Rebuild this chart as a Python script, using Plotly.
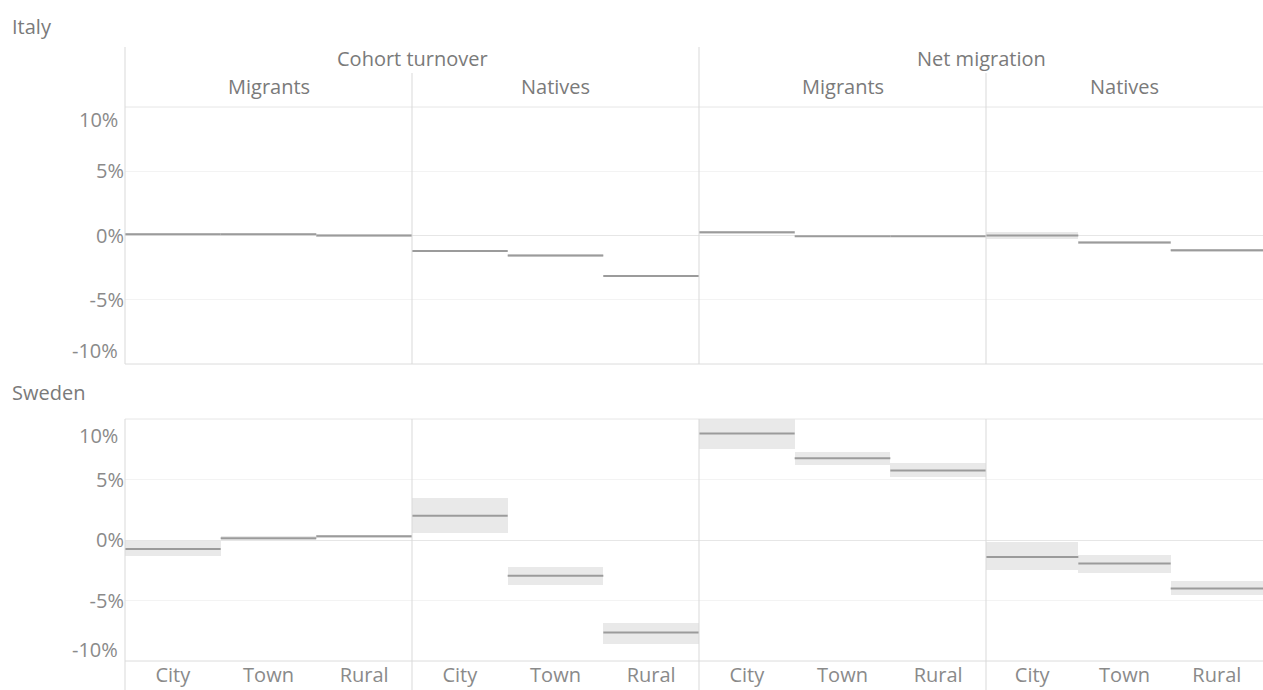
import plotly.graph_objects as go

# ---------------- data ----------------
countries = ["Italy", "Sweden"]
measures = ["Cohort turnover", "Net migration"]
groups = ["Migrants", "Natives"]
categories = ["City", "Town", "Rural"]
y_tick_vals = [-10, -5, 0, 5, 10]
y_tick_text = ["-10%", "-5%", "0%", "5%", "10%"]

# values in %, ordered: CT-Migrants, CT-Natives, NM-Migrants, NM-Natives (City, Town, Rural each)
italy_est = [0.1, 0.1, 0.0, -1.2, -1.55, -3.15, 0.25, -0.05, -0.05, 0.0, -0.55, -1.15]
italy_lo = [0.0, 0.0, -0.1, -1.3, -1.65, -3.25, 0.15, -0.15, -0.15, -0.3, -0.65, -1.25]
italy_hi = [0.2, 0.2, 0.1, -1.1, -1.45, -3.05, 0.35, 0.05, 0.05, 0.3, -0.45, -1.05]

sweden_est = [-0.75, 0.15, 0.3, 2.0, -2.95, -7.65, 8.8, 6.75, 5.75, -1.4, -1.95, -4.0]
sweden_lo = [-1.3, 0.0, 0.15, 0.55, -3.7, -8.6, 7.5, 6.2, 5.2, -2.45, -2.7, -4.55]
sweden_hi = [-0.05, 0.3, 0.45, 3.45, -2.2, -6.9, 10.0, 7.25, 6.4, -0.2, -1.25, -3.4]

est = {"Italy": italy_est, "Sweden": sweden_est}
lo = {"Italy": italy_lo, "Sweden": sweden_lo}
hi = {"Italy": italy_hi, "Sweden": sweden_hi}

# ---------------- layout geometry (pixels) ----------------
W, H = 1263, 690
FONT = "Open Sans"
FSIZE = 20
FWEIGHT = 400
col_edges = [125, 412, 699, 986, 1263]
row_span = {"Italy": (107, 364), "Sweden": (419, 661)}
end_label_shift = {"Italy": (-12, 14), "Sweden": (-16, 12)}

def px(x):
    return x / W

def py(y):
    return 1 - y / H

LINE_C = "#9b9b9b"
BAND_C = "#e9e9e9"
SEP_C = "#d9d9d9"
GRID_C = "#f3f3f3"
TXT_C = "#8a8a8a"
HDR_C = "#7a7a7a"

def fnt(color=TXT_C):
    return dict(family=FONT, size=FSIZE, color=color, weight=FWEIGHT)

fig = go.Figure()
layout_axes = {}
annotations = []
shapes = []

panels = [(m, g) for m in measures for g in groups]
n = 0
for r, country in enumerate(countries):
    top, bot = row_span[country]
    for c, (m, g) in enumerate(panels):
        n += 1
        xa = "x" if n == 1 else f"x{n}"
        ya = "y" if n == 1 else f"y{n}"
        sl = slice(c * 3, c * 3 + 3)
        e = est[country][sl]
        l = lo[country][sl]
        h = hi[country][sl]
        idx = list(range(len(categories)))
        fig.add_trace(go.Bar(
            x=idx, y=[hh - ll for hh, ll in zip(h, l)], base=l, width=1,
            marker=dict(color=BAND_C, line=dict(width=0)),
            xaxis=xa, yaxis=ya, showlegend=False, hoverinfo="skip"))
        xs, ys = [], []
        for i, v in zip(idx, e):
            xs += [i - 0.5, i + 0.5, None]
            ys += [v, v, None]
        fig.add_trace(go.Scatter(
            x=xs, y=ys, mode="lines", line=dict(color=LINE_C, width=2),
            xaxis=xa, yaxis=ya, showlegend=False, connectgaps=False))
        layout_axes[f"xaxis{'' if n == 1 else n}"] = dict(
            domain=[px(col_edges[c]), px(col_edges[c + 1])],
            anchor=ya, range=[-0.5, 2.5], tickvals=idx, ticktext=categories,
            showticklabels=(country == "Sweden"), showgrid=False, zeroline=False,
            showline=False, ticks="", fixedrange=True, tickfont=fnt())
        layout_axes[f"yaxis{'' if n == 1 else n}"] = dict(
            domain=[py(bot), py(top)], anchor=xa, range=[-10, 10],
            tickvals=y_tick_vals,
            ticktext=["", "-5%", "0%", "5%", ""],
            showticklabels=(c == 0), showgrid=True, gridcolor=GRID_C, gridwidth=1,
            zeroline=True, zerolinecolor="#e6e6e6", zerolinewidth=1,
            showline=False, ticks="", fixedrange=True, tickfont=fnt())
        if c == 0:
            # end labels nudged inside the panel, as in the original
            s_top, s_bot = end_label_shift[country]
            annotations.append(dict(x=0, xref=f"{xa} domain", xanchor="right", xshift=-5,
                                    y=y_tick_vals[-1], yref=ya, yanchor="middle", yshift=s_top,
                                    text=y_tick_text[-1], showarrow=False, font=fnt()))
            annotations.append(dict(x=0, xref=f"{xa} domain", xanchor="right", xshift=-5,
                                    y=y_tick_vals[0], yref=ya, yanchor="middle", yshift=s_bot,
                                    text=y_tick_text[0], showarrow=False, font=fnt()))
    # row frame lines
    shapes.append(dict(type="line", xref="paper", yref="paper", x0=px(125), x1=px(1263),
                       y0=py(top), y1=py(top), line=dict(color="#e6e6e6", width=1)))
    shapes.append(dict(type="line", xref="paper", yref="paper", x0=px(125), x1=px(1263),
                       y0=py(bot), y1=py(bot), line=dict(color="#dcdcdc", width=1)))
    for xe in col_edges[:-1]:
        if country == "Italy":
            y0 = 47 if xe in (125, 699) else 73
            y1 = bot
        else:
            y0, y1 = top, H
        shapes.append(dict(type="line", xref="paper", yref="paper", x0=px(xe), x1=px(xe),
                           y0=py(y0), y1=py(y1), line=dict(color=SEP_C, width=1)))
    # country title
    annotations.append(dict(x=px(10), y=py(27 if country == "Italy" else 392), xref="paper",
                            yref="paper", xanchor="left", yanchor="middle", text=country,
                            showarrow=False, font=fnt(HDR_C)))

# column headers
for k, m in enumerate(measures):
    xc = (col_edges[2 * k] + col_edges[2 * k + 2]) / 2
    annotations.append(dict(x=px(xc), y=py(58), xref="paper", yref="paper",
                            xanchor="center", yanchor="middle", text=m, showarrow=False,
                            font=fnt(HDR_C)))
for c, (m, g) in enumerate(panels):
    xc = (col_edges[c] + col_edges[c + 1]) / 2
    annotations.append(dict(x=px(xc), y=py(87), xref="paper", yref="paper",
                            xanchor="center", yanchor="middle", text=g, showarrow=False,
                            font=fnt(HDR_C)))

fig.update_layout(
    width=W, height=H, autosize=False,
    margin=dict(l=0, r=0, t=0, b=0),
    paper_bgcolor="white", plot_bgcolor="rgba(0,0,0,0)",
    barmode="overlay", bargap=0,
    annotations=annotations, shapes=shapes,
    font=fnt(),
    **layout_axes,
)

fig.write_html("out.html", config={"displayModeBar": False},
               post_script="document.body.style.margin='0';")
